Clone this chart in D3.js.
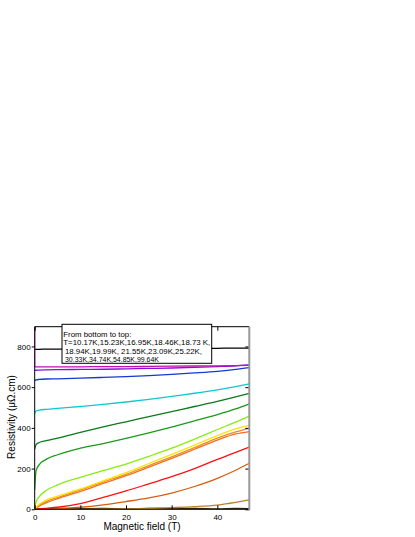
<!DOCTYPE html>
<html><head><meta charset="utf-8">
<script src="https://cdn.jsdelivr.net/npm/d3@7"></script>
<style>body{margin:0;background:#fff}svg{display:block}</style>
</head><body>
<svg id="c" width="415" height="537"></svg>
<script>
const fields = [0, 0.3, 1, 2.5, 5, 10, 15, 20, 25, 30, 35, 40, 44, 47];
const blackTop   = [786,786,786,787,787,787,788,788,789,790,790,791,792,792];
const magenta    = [700,700,700,700,700,700,701,701,702,703,704,705,706,707];
const violet     = [682,683,684,685,686,687,688,690,692,694,697,701,705,710];
const blue       = [632,636,638,640,641,644,648,652,657,663,670,678,687,696];
const cyan       = [470,484,487,491,496,505,515,527,540,555,570,587,603,616];
const darkGreen  = [295,318,328,337,350,378,405,430,455,480,505,530,552,570];
const green      = [95,190,220,245,268,300,323,348,375,404,434,465,493,518];
const lightGreen = [5,35,62,92,120,157,190,222,260,300,345,392,428,458];
const yellow     = [0,10,25,45,65,100,140,180,225,270,315,362,395,414];
const tan        = [0,8,20,38,58,95,135,172,215,258,303,350,380,398];
const orange     = [0,6,16,32,52,88,127,165,207,250,295,340,370,382];
const red        = [0,0,2,5,10,28,58,90,125,160,200,245,280,305];
const darkOrange = [0,0,0,1,3,10,22,38,56,80,112,152,192,226];
const brown      = [0,0,0,0,0,0,1,2,4,8,13,21,34,46];
const blackBot   = [3,2,3,2,4,3,4,2,5,3,4,2,4,3];
const spikeFields = [0, 0, 0.05];
const spikeVals   = [895, 700, 700];

const seriesList = [
  {vals: blackBot, color: "#3a2a10"},
  {vals: brown, color: "#b8862a"},
  {vals: darkOrange, color: "#d85c10"},
  {vals: red, color: "#ff1010"},
  {vals: orange, color: "#ff6a1a"},
  {vals: tan, color: "#e0902a"},
  {vals: yellow, color: "#ffe400"},
  {vals: lightGreen, color: "#88ee10"},
  {vals: green, color: "#1a9a1a"},
  {vals: darkGreen, color: "#0a7a1a"},
  {vals: cyan, color: "#10c8d0"},
  {vals: blue, color: "#1438d0"},
  {vals: violet, color: "#8a10d8"},
  {vals: magenta, color: "#c010b0"},
  {vals: blackTop, color: "#000000"}
];

const yTicks = [0,200,400,600,800];
const xTicks = [0,10,20,30,40];
const legendLines = ["From bottom to top:",
  "T=10.17K,15.23K,16.95K,18.46K,18.73 K,",
  "18.94K,19.99K, 21.55K,23.09K,25.22K,",
  "30.33K,34.74K,54.85K,99.64K"];

const L=34.7, R=249.3, T=326.7, B=509.3;
const x = d3.scaleLinear().domain([0,47]).range([L,R]);
const y = d3.scaleLinear().domain([0,897]).range([B,T]);
const svg = d3.select("#c");
const font = "'Liberation Sans', Arial, sans-serif";

const clip = svg.append("defs").append("clipPath").attr("id","pc");
clip.append("rect").attr("x",L).attr("y",T).attr("width",R-L).attr("height",B-T);

const line = d3.line().x((d,i)=>x(fields[i])).y(d=>y(d)).curve(d3.curveMonotoneX);
const g = svg.append("g").attr("clip-path","url(#pc)");
seriesList.forEach(s=>{
  g.append("path").attr("d", line(s.vals)).attr("fill","none")
   .attr("stroke", s.color).attr("stroke-width",1.3);
});
const spikeLine = d3.line().x((d,i)=>x(spikeFields[i])).y(d=>y(d));
g.append("path").attr("d", spikeLine(spikeVals)).attr("fill","none").attr("stroke","#c010b0").attr("stroke-width",1.3);

// axes
const yl = svg.append("g").attr("transform",`translate(${L},0)`)
  .call(d3.axisLeft(y).tickValues(yTicks).tickSize(3).tickPadding(1));
const yr = svg.append("g").attr("transform",`translate(${R},0)`)
  .call(d3.axisLeft(y).tickValues(yTicks).tickSize(4).tickFormat(""));
const xb = svg.append("g").attr("transform",`translate(0,${B})`)
  .call(d3.axisTop(x).tickValues(xTicks).tickSize(4).tickFormat(""));
const xbl = svg.append("g").attr("transform",`translate(0,${B})`)
  .call(d3.axisBottom(x).tickValues(xTicks).tickSize(0).tickPadding(5));
const xt = svg.append("g").attr("transform",`translate(0,${T})`)
  .call(d3.axisBottom(x).tickValues(xTicks).tickSize(4).tickFormat(""));
[yl,yr,xb,xbl,xt].forEach(a=>{
  a.select(".domain").remove();
  a.selectAll("text").attr("font-family",font).attr("font-size",8).attr("fill","#000");
  a.selectAll("line").attr("stroke","#000");
});
// frame
svg.append("line").attr("x1",L).attr("x2",R).attr("y1",T).attr("y2",T).attr("stroke","#000");
svg.append("line").attr("x1",L).attr("x2",R).attr("y1",B).attr("y2",B).attr("stroke","#000");
svg.append("line").attr("x1",L).attr("x2",L).attr("y1",T).attr("y2",B).attr("stroke","#000");
svg.append("line").attr("x1",R).attr("x2",R).attr("y1",T).attr("y2",B+1).attr("stroke","#999").attr("stroke-width",2);

// legend
const legendX = [63.3, 63.3, 65, 65];
const legendW = [68, 147, 137, 94];
const lg = svg.append("g");
lg.append("rect").attr("x",62).attr("y",324.3).attr("width",149.7).attr("height",39)
  .attr("fill","#fff").attr("stroke","#000").attr("stroke-width",1);
legendLines.forEach((t,i)=>{
  lg.append("text").attr("x",legendX[i]).attr("y",336.8+i*8.4)
   .attr("textLength",legendW[i]).attr("lengthAdjust","spacingAndGlyphs")
   .attr("font-family",font).attr("font-size",7.2).text(t);
});

// labels
svg.append("text").attr("transform",`translate(15,417) rotate(-90)`).attr("text-anchor","middle")
  .attr("font-family",font).attr("font-size",10).text("Resistivity (\u03bc\u03a9.cm)");
svg.append("text").attr("x",142).attr("y",530).attr("text-anchor","middle")
  .attr("font-family",font).attr("font-size",10).text("Magnetic field (T)");
</script>
</body></html>
